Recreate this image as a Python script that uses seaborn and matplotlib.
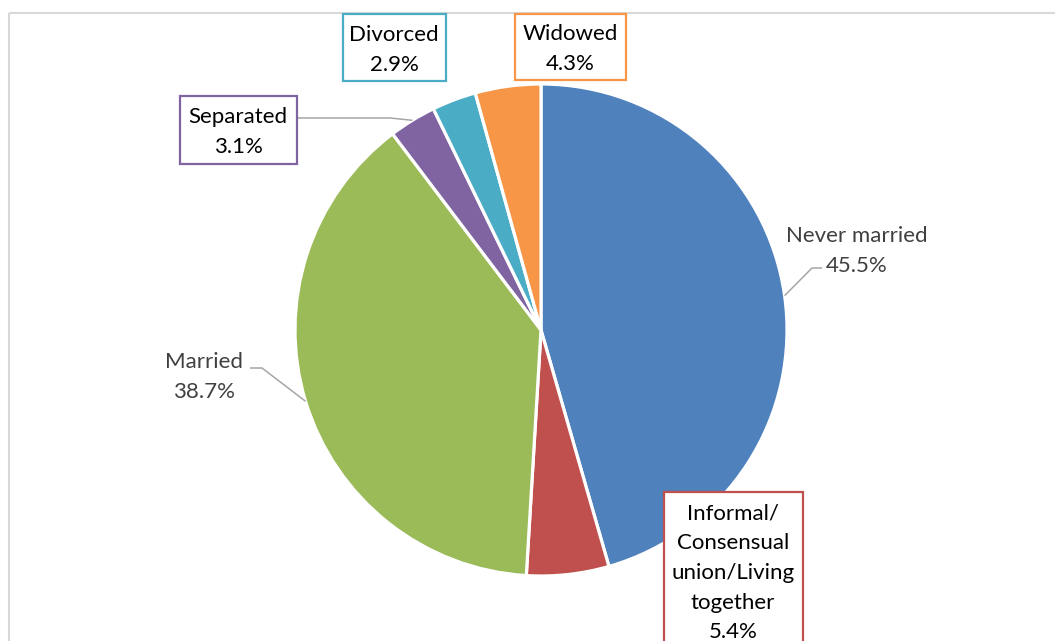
import matplotlib
matplotlib.use("Agg")
import matplotlib.pyplot as plt
import matplotlib.patches as mpatches
import seaborn as sns
import numpy as np

categories = ["Never married", "Informal/\nConsensual\nunion/Living\ntogether", "Married",
              "Separated", "Divorced", "Widowed"]
values = [45.5, 5.4, 38.7, 3.1, 2.9, 4.3]
colors = ["#4F81BD", "#C0504D", "#9BBB59", "#8064A2", "#4BACC6", "#F79646"]

sns.set_theme(style="white")
plt.rcParams['font.family'] = ['Lato', 'DejaVu Sans']

W, H = 1055, 641
fig = plt.figure(figsize=(W / 100, H / 100), dpi=100)
ax = fig.add_axes([0, 0, 1, 1])

cx, cy, R = 541, 330, 246
wedges, _ = ax.pie(values, colors=colors, startangle=-90, counterclock=True,
                   center=(cx, cy), radius=R,
                   wedgeprops=dict(edgecolor="white", linewidth=2.3))
ax.set_xlim(0, W)
ax.set_ylim(H, 0)
ax.set_aspect("equal")
ax.axis("off")

# chart-area border
ax.add_patch(mpatches.Rectangle((9, 13), 1200, 800, fill=False,
                                edgecolor="#D9D9D9", linewidth=1.5))

def edge_point(w):
    a = np.deg2rad((w.theta1 + w.theta2) / 2)
    return cx + R * np.cos(a), cy + R * np.sin(a)

fs = 16
gray = "#404040"
lead = "#A6A6A6"

# label layout: (text center x, text center y, box or None, leader path or None)
layout = {
    0: dict(pos=(857, 251), box=None, leader=[(812, 268), (822, 268)]),
    1: dict(pos=(733, 573), box=(664, 492, 139, 200), leader=None),
    2: dict(pos=(204, 377), box=None, leader=[(262, 368), (250, 368)]),
    3: dict(pos=(238, 132), box=(180, 96, 117, 68), leader=[(390, 118), (297, 118)]),
    4: dict(pos=(394, 50), box=(343, 14, 103, 67), leader=None),
    5: dict(pos=(570, 49), box=(515, 14, 111, 66), leader=None),
}

for i, (cat, val) in enumerate(zip(categories, values)):
    L = layout[i]
    if L["leader"] is not None:
        px, py = edge_point(wedges[i])
        pts = [(px, py)] + L["leader"]
        ax.plot([p[0] for p in pts], [p[1] for p in pts], color=lead, lw=1.1,
                solid_capstyle="butt")
    if L["box"] is not None:
        bx, by, bw, bh = L["box"]
        ax.add_patch(mpatches.Rectangle((bx, by), bw, bh, facecolor="white",
                                        edgecolor=colors[i], linewidth=1.6, zorder=3))
        tc = "black"
    else:
        tc = gray
    ax.text(L["pos"][0], L["pos"][1], f"{cat}\n{val:.1f}%", ha="center", va="center",
            multialignment="center", fontsize=fs, color=tc, linespacing=1.6, zorder=4)

fig.savefig("out.png", dpi=100)
